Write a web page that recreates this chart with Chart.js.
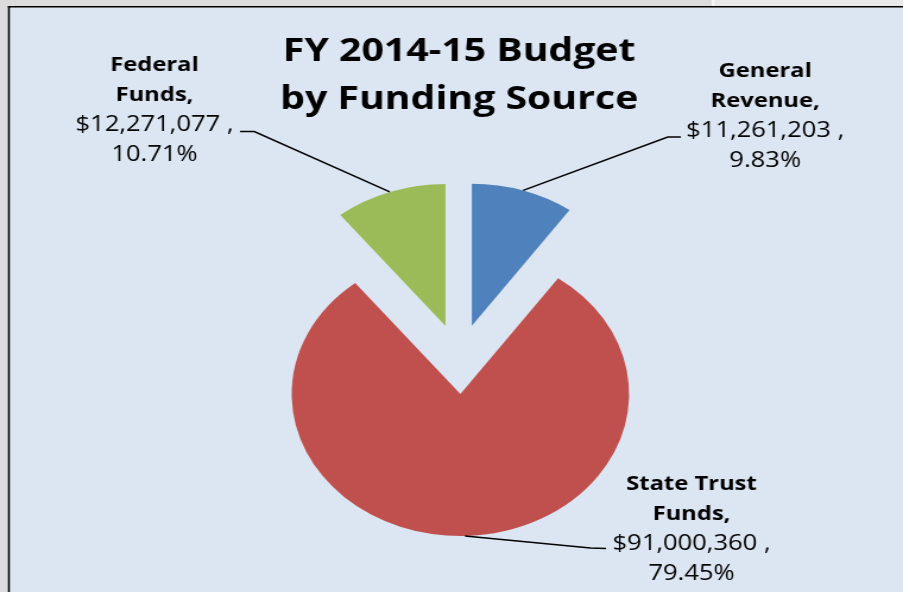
<!DOCTYPE html>
<html>
<head>
<meta charset="utf-8">
<script src="https://cdn.jsdelivr.net/npm/chart.js@4.4.1/dist/chart.umd.min.js"></script>
<style>
  html, body { margin: 0; padding: 0; background: #dcdcdc; overflow: hidden; }
  #budget-chart { display: block; }
</style>
</head>
<body>
<!-- the original screenshot is stretched sideways, so the canvas is drawn narrow and widened by css -->
<canvas id="budget-chart" width="760" height="592" style="width:903px;height:592px"></canvas>
<script>
const categories = ["General\nRevenue", "State Trust\nFunds", "Federal\nFunds"];
const amounts = [11261203, 91000360, 12271077];
const sliceColors = ["#4f81bd", "#c0504d", "#9bbb59"];
const titleLines = ["FY 2014-15 Budget", "by Funding Source"];

const EXPLODE = 35; // how far every slice is pulled out of the centre
const labelLayout = [
  { x: 644, y: 77, elbow: [562, 137], end: [573, 137] },
  { x: 582, y: 490, elbow: [497, 548], end: [510, 548.5] },
  { x: 130, y: 71, elbow: [214, 131.5], end: [202, 131.5] },
];

function kroner(v) {
  return "$" + v.toLocaleString("en-US") + " ,";
}

const bakgrunn = {
  id: "bakgrunn",
  beforeDraw(chart) {
    const ctx = chart.ctx;
    ctx.save();
    ctx.fillStyle = "#dcdcdc";
    ctx.fillRect(0, 0, chart.width, chart.height);
    ctx.fillStyle = "#e9e9e9";
    ctx.fillRect(601, 0, chart.width, 7);
    ctx.fillStyle = "#f6f6f6";
    ctx.fillRect(599, 0, 2.5, 7);
    ctx.fillStyle = "#000";
    ctx.fillRect(6.7, 6, chart.width, 1.7);
    ctx.fillRect(6.7, 6, 1.8, chart.height);
    ctx.fillStyle = "#dce6f2";
    ctx.fillRect(8.5, 7.7, chart.width, chart.height);
    ctx.restore();
  },
};

// chart.js' own offset also grows and trims the arcs, so pull the slices out by hand
const utskyving = {
  id: "utskyving",
  beforeDatasetsDraw(chart) {
    const ctx = chart.ctx;
    chart.getDatasetMeta(0).data.forEach((arc) => {
      const mid = (arc.startAngle + arc.endAngle) / 2;
      ctx.save();
      ctx.translate(Math.cos(mid) * EXPLODE, Math.sin(mid) * EXPLODE);
      arc.draw(ctx);
      ctx.restore();
    });
    return false;
  },
};

const etiketter = {
  id: "etiketter",
  afterDraw(chart) {
    const ctx = chart.ctx;
    const meta = chart.getDatasetMeta(0);
    const total = amounts.reduce((a, b) => a + b, 0);
    ctx.save();
    meta.data.forEach((arc, i) => {
      const mid = (arc.startAngle + arc.endAngle) / 2;
      const reach = arc.outerRadius + EXPLODE;
      const lay = labelLayout[i];

      ctx.strokeStyle = "#000";
      ctx.lineWidth = 1.5;
      ctx.beginPath();
      ctx.moveTo(arc.x + Math.cos(mid) * reach, arc.y + Math.sin(mid) * reach);
      ctx.lineTo(lay.elbow[0], lay.elbow[1]);
      ctx.lineTo(lay.end[0], lay.end[1]);
      ctx.stroke();

      const navn = categories[i].split("\n");
      navn[navn.length - 1] += ",";
      const prosent = ((amounts[i] / total) * 100).toFixed(2) + "%";

      ctx.fillStyle = "#000";
      ctx.textAlign = "center";
      ctx.textBaseline = "alphabetic";
      let y = lay.y;
      ctx.font = "bold 20px 'Open Sans'";
      navn.forEach((linje) => {
        ctx.fillText(linje, lay.x, y);
        y += 30;
      });
      ctx.font = "21.5px 'Open Sans'";
      ctx.fillText(kroner(amounts[i]), lay.x, y);
      ctx.fillText(prosent, lay.x, y + 30);
    });
    ctx.restore();
  },
};

new Chart(document.getElementById("budget-chart"), {
  type: "pie",
  data: {
    labels: categories,
    datasets: [
      {
        data: amounts,
        backgroundColor: sliceColors,
        borderWidth: 0,
        radius: 142,
        offset: 0,
        hoverOffset: 0,
      },
    ],
  },
  options: {
    responsive: false,
    devicePixelRatio: 1,
    animation: false,
    events: [],
    radius: 142,
    layout: { padding: { left: 13, right: 0, top: 0, bottom: 0 } },
    plugins: {
      legend: { display: false },
      tooltip: { enabled: false },
      title: {
        display: true,
        text: titleLines,
        color: "#000",
        font: { family: "'Open Sans'", size: 33, weight: "bold", lineHeight: 48 / 33 },
        padding: { top: 28, bottom: 2 },
      },
    },
  },
  plugins: [bakgrunn, utskyving, etiketter],
});
</script>
</body>
</html>
